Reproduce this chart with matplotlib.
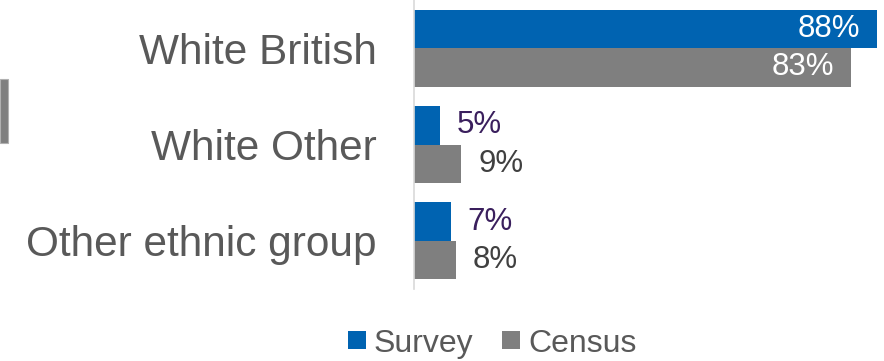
import matplotlib
matplotlib.use('Agg')
import matplotlib.pyplot as plt
import numpy as np
from matplotlib.patches import Patch, Rectangle

plt.rcParams['font.family'] = ['Liberation Sans', 'DejaVu Sans']

categories = ['White British', 'White Other', 'Other ethnic group']
survey = [88, 5, 7]
census = [83, 9, 8]
series_names = ['Survey', 'Census']

BLUE = '#0063B1'
GREY = '#7F7F7F'

fig = plt.figure(figsize=(8.84, 3.61), dpi=100)
ax = fig.add_axes([414 / 884, 1 - 289 / 361, 1 - 414 / 884, 289 / 361])

y = np.arange(len(categories))
h = 0.4
b1 = ax.barh(y - h / 2, survey, height=h, color=BLUE)
b2 = ax.barh(y + h / 2, census, height=h, color=GREY)

ax.set_xlim(0, 89.3)
ax.set_ylim(len(categories) - 0.5, -0.5)
ax.set_yticks(y)
ax.set_yticklabels(categories, fontsize=30.5, color='#595959')
ax.tick_params(axis='y', length=0, pad=27)
ax.set_xticks([])
for s in ['top', 'right', 'bottom']:
    ax.spines[s].set_visible(False)
ax.spines['left'].set_color('#D9D9D9')
ax.spines['left'].set_linewidth(1.2)

# big bars get white labels inside, small ones dark labels outside
def label_bars(bars, vals, outside_color):
    for bar, v in zip(bars, vals):
        yc = bar.get_y() + bar.get_height() / 2
        if v > 40:
            ax.annotate('%d%%' % v, (v, yc), xytext=(-12, 0), textcoords='offset points',
                        ha='right', va='center', fontsize=22.5, color='white')
        else:
            ax.annotate('%d%%' % v, (v, yc), xytext=(12, 0), textcoords='offset points',
                        ha='left', va='center', fontsize=22.5, color=outside_color)

label_bars(b1, survey, '#3A1F5D')
label_bars(b2, census, '#404040')

# stray grey block on the left edge
fig.patches.append(Rectangle((0, 1 - 143 / 361), 8 / 884, 64 / 361, transform=fig.transFigure,
                             facecolor=GREY, edgecolor='#B0B0B0', linewidth=0.8))

handles = [Patch(facecolor=BLUE), Patch(facecolor=GREY)]
fig.legend(handles, series_names, loc='center', bbox_to_anchor=(0.557, 0.048), ncol=2,
           frameon=False, fontsize=23, handlelength=0.55, handleheight=0.5,
           handletextpad=0.25, columnspacing=0.9, labelcolor='#595959')

fig.savefig('out.png', dpi=100)
